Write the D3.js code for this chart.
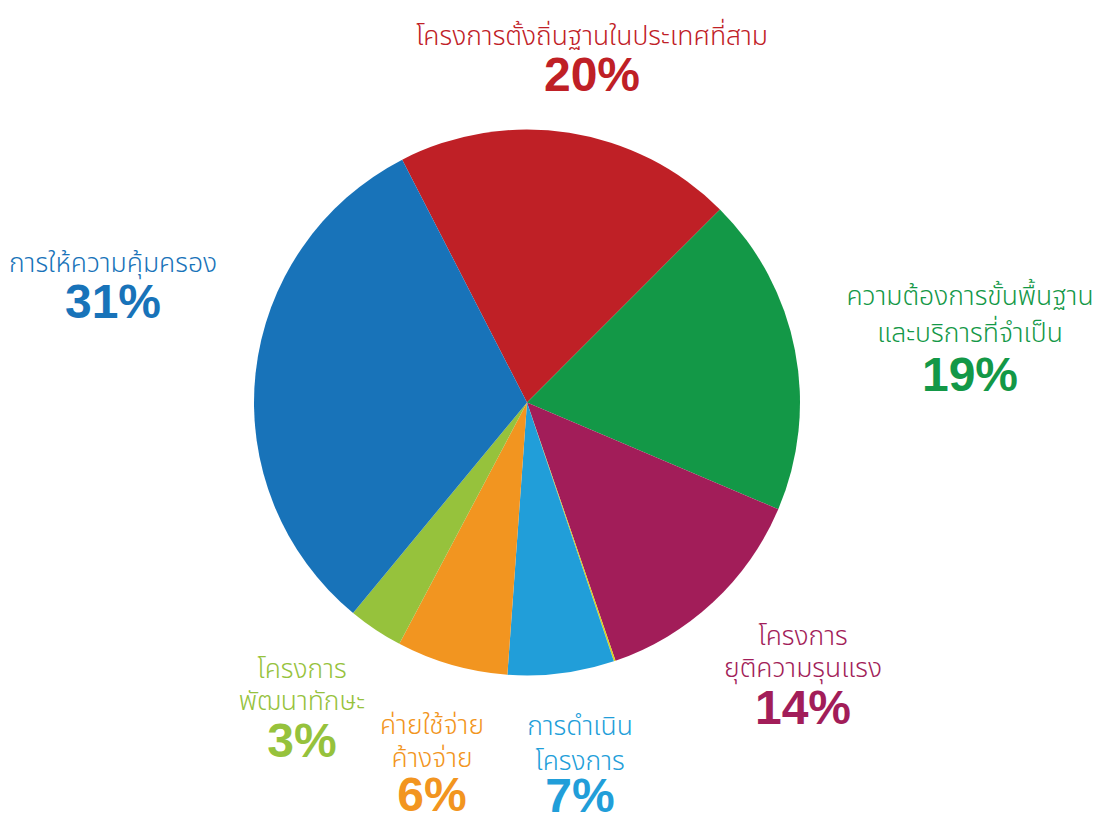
<!DOCTYPE html>
<html>
  <head>
    <meta charset="utf-8">
    <title>Pie</title>
    <script src="https://d3js.org/d3.v7.min.js"></script>
    <style>
      body { margin: 0; background: white; }
      .name { font-family: "Noto Sans Thai", "Noto Sans", sans-serif; font-size: 26.5px; font-weight: 300; }
      .pct { font-family: "Liberation Sans", Arial, sans-serif; font-size: 48px; font-weight: bold; }
    </style>
  </head>
  <body>
    <script>
      let width = 1099, height = 822;

      // slices clockwise from the red one
      let categories = ["settle", "basic", "violence", "gap", "ops", "expense", "skills", "protect"];
      let values = [20.05, 18.9, 13.35, 0.1, 6.3, 6.6, 3.25, 31.45];
      let colors = ["#bf2026", "#139847", "#a21d59", "#d8d21e", "#219ed9", "#f29520", "#96c23c", "#1873b9"];

      // labels
      let labelNames = [
        ["โครงการตั้งถิ่นฐานในประเทศที่สาม"],
        ["ความต้องการขั้นพื้นฐาน", "และบริการที่จำเป็น"],
        ["โครงการ", "ยุติความรุนแรง"],
        [],
        ["การดำเนิน", "โครงการ"],
        ["ค่ายใช้จ่าย", "ค้างจ่าย"],
        ["โครงการ", "พัฒนาทักษะ"],
        ["การให้ความคุ้มครอง"]
      ];
      let labelPcts = ["20%", "19%", "14%", "", "7%", "6%", "3%", "31%"];
      let labelPos = [[592, 45], [970, 305], [803, 645], null, [580, 735], [432, 734], [302, 678], [113, 272]];
      let lineGap = [33, 37, 32, 0, 35, 33, 32, 33];
      let pctGap = [46, 49, 47, 0, 42, 44, 47, 46];

      let svg = d3.select("body").append("svg")
                  .attr("width", width).attr("height", height);

      let start = -27.2 * Math.PI / 180;
      let pie = d3.pie().sort(null).startAngle(start).endAngle(start + 2 * Math.PI);
      let data = pie(values);

      let arc = d3.arc().innerRadius(0).outerRadius(273);

      let g = svg.append("g").attr("transform", "translate(527, 402.5)");
      g.selectAll("path").data(data).enter().append("path")
        .attr("d", arc)
        .attr("fill", (d, i) => colors[i]);

      categories.forEach(function(c, i) {
        if (!labelPos[i]) return;
        let [x, y] = labelPos[i];
        let lbl = svg.append("g").attr("text-anchor", "middle").attr("fill", colors[i]);
        labelNames[i].forEach(function(t, j) {
          lbl.append("text").attr("class", "name")
            .attr("x", x).attr("y", y + j * lineGap[i]).text(t);
        });
        lbl.append("text").attr("class", "pct")
          .attr("x", x).attr("y", y + (labelNames[i].length - 1) * lineGap[i] + pctGap[i])
          .text(labelPcts[i]);
      });
    </script>
  </body>
</html>
